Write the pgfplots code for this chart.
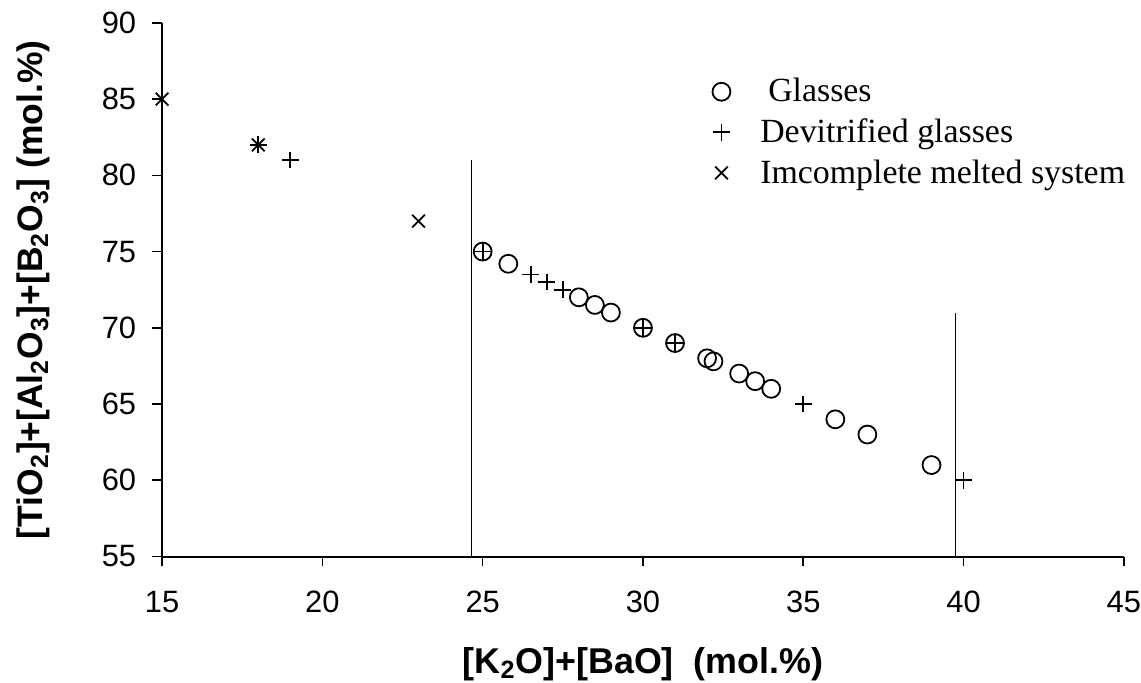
\documentclass[border=0pt]{standalone}
\usepackage{pgfplots}
\pgfplotsset{compat=1.18}
\usepackage{fontspec}
\setmainfont{Liberation Sans}
\newfontfamily\tnr{Liberation Serif}
\begin{document}
\begin{tikzpicture}
\begin{axis}[
  scale only axis,
  width=483pt, height=268pt,
  xmin=15, xmax=45, ymin=55, ymax=90,
  xtick={15,20,...,45}, ytick={55,60,...,90},
  axis x line=bottom, axis y line=left,
  axis line style={-, line width=1pt},
  tick align=outside, major tick length=5pt,
  tick style={line width=0.8pt, black},
  /pgf/number format/assume math mode=true,
  yticklabel style={font=\fontsize{15.5}{18}\selectfont, xshift=-4.5pt, inner ysep=6pt},
  xticklabel style={font=\fontsize{15.5}{18}\selectfont, yshift=-9pt, inner xsep=0pt},
  xlabel={[K\textsubscript{2}O]+[BaO]\ \ (mol.\%)},
  ylabel={[TiO\textsubscript{2}]+[Al\textsubscript{2}O\textsubscript{3}]+[B\textsubscript{2}O\textsubscript{3}] (mol.\%)},
  xlabel style={font=\bfseries\fontsize{18}{21}\selectfont, inner ysep=1pt, yshift=-12.5pt},
  ylabel style={font=\bfseries\fontsize{17.8}{21}\selectfont, inner ysep=8.5pt, yshift=14pt},
  legend style={draw=none, fill=none, overlay, at={(axis cs:31.97,86.9)}, anchor=north west,
    font=\tnr\fontsize{17}{20}\selectfont, row sep=3pt},
  legend cell align=left,
]
\addplot[only marks, mark=o, mark size=4.5pt, line width=0.9pt] coordinates {
(25,75) (25.8,74.2) (28,72) (28.5,71.5) (29,71) (30,70) (31,69) (32,68) (32.2,67.8)
(33,67) (33.5,66.5) (34,66) (36,64) (37,63) (39,61)};
\addlegendentry{\hspace{17pt}Glasses}
\addplot[only marks, mark=+, mark size=4.2pt, line width=0.9pt] coordinates {
(18,82) (19,81) (25,75) (26.5,73.5) (27,73) (27.5,72.5) (30,70) (31,69) (35,65) (40,60)};
\addlegendentry{\hspace{13pt}Devitrified glasses}
\addplot[only marks, mark=x, mark size=4.5pt, line width=0.9pt] coordinates {
(15,85) (18,82) (23,77)};
\addlegendentry{\hspace{13pt}Imcomplete melted system}
\addplot[line width=0.8pt, forget plot] coordinates {(24.65,55) (24.65,81)};
\addplot[line width=0.8pt, forget plot] coordinates {(39.75,55) (39.75,71)};
\end{axis}
\end{tikzpicture}
\end{document}
